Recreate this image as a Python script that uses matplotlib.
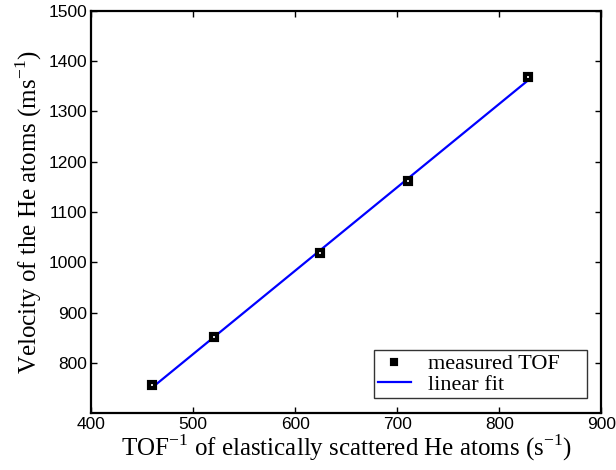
import numpy as np
import matplotlib
matplotlib.use("Agg")
import matplotlib.pyplot as plt

# measured inverse time of flight (1/s) and He velocity (m/s)
tof_inv = [460, 520.5, 624.5, 711, 828.5]
velocity = [756, 851, 1019, 1162, 1368]

x_ticks = [400, 500, 600, 700, 800, 900]
y_ticks = [800, 900, 1000, 1100, 1200, 1300, 1400, 1500]

serif = ["Liberation Serif", "DejaVu Serif"]
sans = ["Liberation Sans", "DejaVu Sans"]

fig = plt.figure(figsize=(6.16, 4.70), dpi=100)
ax = fig.add_axes([0.148, 0.121, 0.828, 0.856])

x = np.asarray(tof_inv)
y = np.asarray(velocity)
slope, icpt = np.polyfit(x, y, 1)
xf = np.array([x.min(), x.max()])

ax.plot(x, y, "s", ms=4.3, mfc="white", mec="black", mew=3.0, label="measured TOF", zorder=3)
ax.plot(xf, slope * xf + icpt, color="blue", lw=1.6, label="linear fit", zorder=2)

ax.set_xlim(400, 900)
ax.set_ylim(700, 1500)
ax.set_xticks(x_ticks)
ax.set_yticks(y_ticks)
ax.tick_params(direction="in", top=True, right=True, length=4, width=1.0, labelsize=12.5, pad=3)
for lab in ax.get_xticklabels() + ax.get_yticklabels():
    lab.set_family(sans)
for sp in ax.spines.values():
    sp.set_linewidth(1.6)

ax.set_xlabel(r"TOF$^{\mathregular{-1}}$ of elastically scattered He atoms (s$^{\mathregular{-1}}$)",
              family=serif, fontsize=18, labelpad=0)
ax.set_ylabel(r"Velocity of the He atoms (ms$^{\mathregular{-1}}$)",
              family=serif, fontsize=18, labelpad=3)

leg = ax.legend(loc="lower left", bbox_to_anchor=(0.555, 0.037, 0.4175, 0.12), mode="expand",
                prop={"family": serif, "size": 16}, frameon=True, fancybox=False,
                edgecolor="black", borderpad=0.15, handlelength=1.5, handletextpad=0.75,
                labelspacing=0.0, borderaxespad=0.0, markerscale=0.8)
leg.get_frame().set_linewidth(1.0)

fig.savefig("out.png", dpi=100)
